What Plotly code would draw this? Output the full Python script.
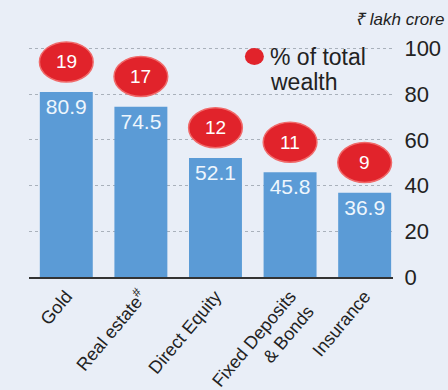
import plotly.graph_objects as go

# Household wealth by asset class
categories = ["Gold", "Real estate<sup>#</sup>", "Direct Equity", "Fixed Deposits<br>& Bonds", "Insurance"]
values_lakh_crore = [80.9, 74.5, 52.1, 45.8, 36.9]
share_pct = [19, 17, 12, 11, 9]
y_ticks = [0, 20, 40, 60, 80, 100]

BG = "#e9eef7"
BAR = "#5b9bd6"
RED = "#e1232b"
FONT = "Liberation Sans, Arial, sans-serif"

# plot area in pixels, used to place paper-referenced legend items
PL, PR, PB, PT = 29.25, 393.0, 277.0, 37.0


def px(x):
    return (x - PL) / (PR - PL)


def py(y):
    return (PB - y) / (PB - PT)


x_idx = list(range(len(categories)))

fig = go.Figure()
fig.add_trace(go.Bar(
    x=x_idx,
    y=values_lakh_crore,
    marker=dict(color=BAR, line=dict(width=0)),
    width=0.71,
    text=[f"{v:.1f}" for v in values_lakh_crore],
    textposition="inside",
    insidetextanchor="end",
    textangle=0,
    constraintext="none",
    textfont=dict(color="#eef6fd", size=21, family=FONT),
    hoverinfo="skip",
))

shapes = []
annotations = []
# red share badges floating above each bar
badge_gap = 13.2
badge_h = 17.5
for i, (v, p) in enumerate(zip(values_lakh_crore, share_pct)):
    cy = v + badge_gap
    shapes.append(dict(
        type="circle", xref="x", yref="y",
        x0=i - 0.36, x1=i + 0.36, y0=cy - badge_h / 2, y1=cy + badge_h / 2,
        fillcolor=RED, line=dict(color="#f06a6a", width=1.5), layer="above",
    ))
    annotations.append(dict(
        x=i, y=cy, xref="x", yref="y", text=str(p), showarrow=False,
        font=dict(color="white", size=19, family=FONT),
    ))

# legend for the badges
shapes.append(dict(
    type="circle", xref="paper", yref="paper",
    x0=px(245), x1=px(264), y0=py(65), y1=py(48),
    fillcolor=RED, line=dict(width=0),
))
annotations.append(dict(
    x=px(268), y=py(57), xref="paper", yref="paper",
    xanchor="left", yanchor="middle", showarrow=False,
    text="% of total", font=dict(color="#222222", size=23, family=FONT),
))
annotations.append(dict(
    x=px(268), y=py(82), xref="paper", yref="paper",
    xanchor="left", yanchor="middle", showarrow=False,
    text="wealth", font=dict(color="#222222", size=23, family=FONT),
))
# unit label
annotations.append(dict(
    x=px(446), y=py(19), xref="paper", yref="paper",
    xanchor="right", yanchor="middle", showarrow=False,
    text="<i>₹ lakh crore</i>", font=dict(color="#222222", size=17, family=FONT),
))

fig.update_layout(
    width=448, height=390,
    margin=dict(l=29, r=55, t=37, b=113, autoexpand=False),
    paper_bgcolor=BG, plot_bgcolor=BG,
    showlegend=False,
    bargap=0.29,
    shapes=shapes,
    annotations=annotations,
    xaxis=dict(
        range=[-0.5, 4.38],
        tickmode="array", tickvals=x_idx, ticktext=categories,
        tickangle=-50,
        tickfont=dict(size=18, color="#222222", family=FONT),
        ticklabelshift=0, ticklabelstandoff=0,
        showgrid=False, zeroline=False,
        showline=True, linecolor="#333333", linewidth=1.5,
        ticks="", automargin=False,
    ),
    yaxis=dict(
        side="right",
        range=[0, 105],
        tickmode="array", tickvals=y_ticks,
        tickfont=dict(size=22, color="#222222", family=FONT),
        showgrid=True, gridcolor="#a9b1bb", griddash="dot", gridwidth=1,
        zeroline=False, showline=False,
        ticks="outside", ticklen=6, tickcolor="rgba(0,0,0,0)",
        automargin=False,
    ),
)

fig.write_html("out.html")
